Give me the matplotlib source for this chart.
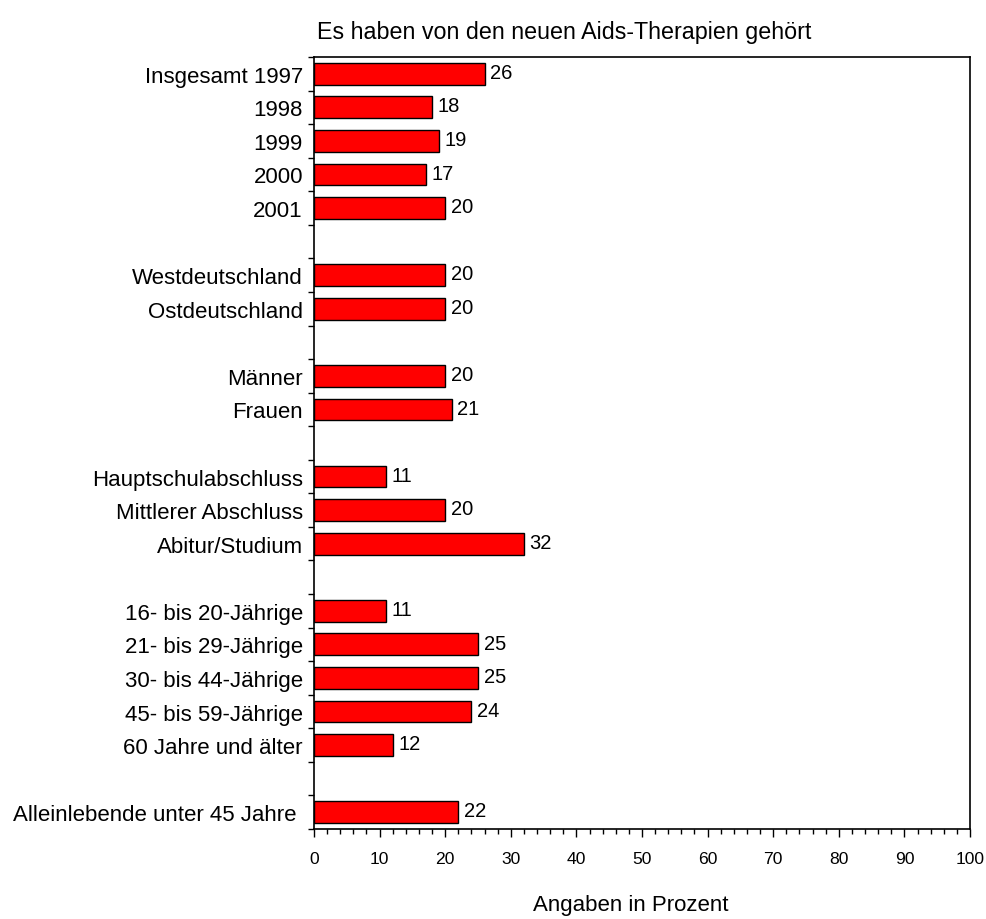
import matplotlib
matplotlib.use("Agg")
import matplotlib.pyplot as plt
import numpy as np
from matplotlib.ticker import MultipleLocator, FixedLocator

plt.rcParams['font.family'] = ['Liberation Sans', 'DejaVu Sans']

categories = ["Insgesamt 1997", "1998", "1999", "2000", "2001",
              "Westdeutschland", "Ostdeutschland",
              "Männer", "Frauen",
              "Hauptschulabschluss", "Mittlerer Abschluss", "Abitur/Studium",
              "16- bis 20-Jährige", "21- bis 29-Jährige", "30- bis 44-Jährige",
              "45- bis 59-Jährige", "60 Jahre und älter",
              "Alleinlebende unter 45 Jahre "]
values = [26, 18, 19, 17, 20,
          20, 20,
          20, 21,
          11, 20, 32,
          11, 25, 25, 24, 12,
          22]
group_sizes = [5, 2, 2, 3, 5, 1]

title = "Es haben von den neuen Aids-Therapien gehört"
xlabel = "Angaben in Prozent"

# slot positions with one empty slot between groups
positions = []
slot = 0
for gi, n in enumerate(group_sizes):
    for k in range(n):
        positions.append(slot + 0.5)
        slot += 1
    if gi < len(group_sizes) - 1:
        slot += 1
n_slots = slot

fig = plt.figure(figsize=(9.87, 9.2), dpi=100)
ax = fig.add_axes([314/987, 1 - 830/920, (970 - 314)/987, (830 - 58)/920])

ax.barh(positions, values, height=0.65, color='#FF0000', edgecolor='black', linewidth=1.0, zorder=2)
for p, v in zip(positions, values):
    ax.annotate(str(v), (v, p), xytext=(4, 1), textcoords='offset points',
                ha='left', va='center', fontsize=14.5)

ax.set_xlim(0, 100)
ax.set_ylim(n_slots, 0)

ax.xaxis.set_major_locator(MultipleLocator(10))
ax.xaxis.set_minor_locator(MultipleLocator(2))
ax.tick_params(axis='x', which='major', length=6, width=1.0, labelsize=12.6, pad=10, direction='out')
ax.tick_params(axis='x', which='minor', length=3.5, width=1.0, direction='out')

ax.yaxis.set_major_locator(FixedLocator(np.arange(0, n_slots + 1)))
ax.yaxis.set_minor_locator(FixedLocator(positions))
ax.set_yticklabels([])
ax.set_yticklabels(categories, minor=True)
ax.tick_params(axis='y', which='major', length=4.5, width=1.0, direction='out')
ax.tick_params(axis='y', which='minor', length=0, labelsize=16, pad=8)

for s in ax.spines.values():
    s.set_linewidth(1.2)

fig.text(317/987, 1 - 32/920, title, ha='left', va='center', fontsize=16.75)
fig.text(631/987, 1 - 906/920, xlabel, ha='center', va='center', fontsize=16)

fig.savefig("out.png", dpi=100)
